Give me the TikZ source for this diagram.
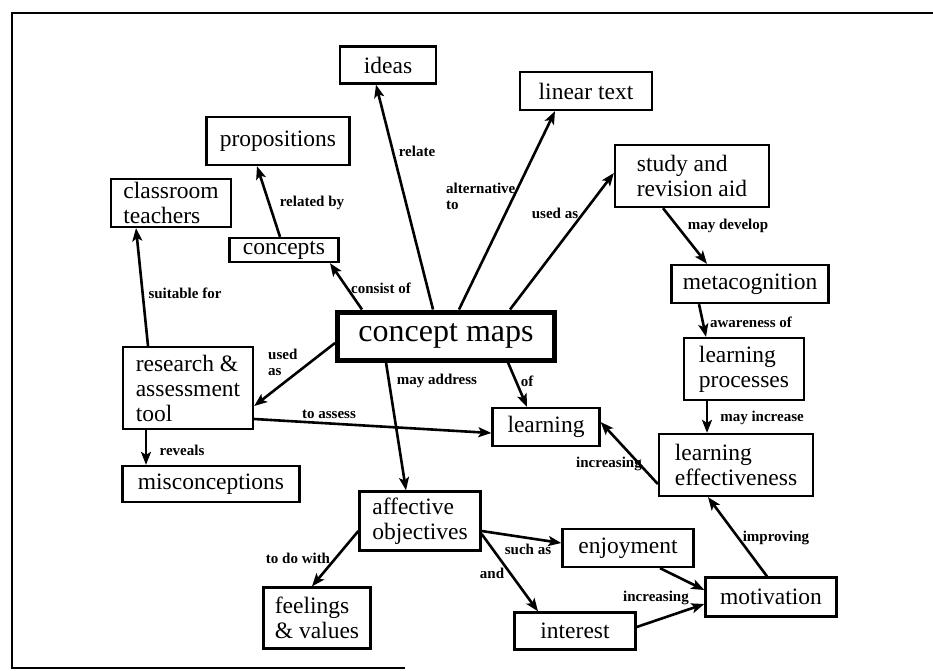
\documentclass[tikz,border=0pt]{standalone}
\usepackage{fontspec}
\setmainfont{Liberation Serif}
\usetikzlibrary{arrows.meta}
\begin{document}
\begin{tikzpicture}[x=1pt,y=-1pt,
  concept/.style={draw, line width=2.3pt, rectangle, inner sep=0pt, align=left,
    font=\fontsize{23.5}{25}\selectfont},
  link/.style={line width=2.6pt, -{Stealth[length=13pt,width=10pt,inset=3pt]}},
  lbl/.style={inner sep=0pt, align=left, font=\fontsize{15}{16}\selectfont\bfseries},
]
\useasboundingbox (0,0) rectangle (933,670);

% partial frame
\draw[line width=2.5pt] (933,13) -- (12,13) -- (12,668) -- (405,668);

% concepts
\node[draw, line width=5pt, rectangle, inner sep=0pt, minimum width=217pt, minimum height=48pt,
      font=\fontsize{32}{34}\selectfont] (cmaps) at (446,336) {concept maps};
\node[concept, minimum width=96pt,  minimum height=37pt] (ideas)    at (388,65)  {ideas};
\node[concept, minimum width=132pt, minimum height=38pt] (linear)   at (586,91)  {linear text};
\node[concept, minimum width=143pt, minimum height=48pt] (props)    at (278,141) {propositions};
\node[concept, minimum width=120pt, minimum height=48pt] (teachers) at (171,203) {classroom\\teachers};
\node[concept, minimum width=109pt, minimum height=24pt] (concepts) at (284,250) {concepts};
\node[concept, minimum width=154pt, minimum height=62pt] (study)    at (692,176) {study and\\revision aid};
\node[concept, minimum width=157pt, minimum height=38pt] (meta)     at (750,284) {metacognition};
\node[concept, minimum width=130pt, minimum height=82pt] (research) at (188,388) {research \&\\assessment\\tool};
\node[concept, minimum width=177pt, minimum height=36pt] (miscon)   at (211,484) {misconceptions};
\node[concept, minimum width=107pt, minimum height=38pt] (learning) at (546,427) {learning};
\node[concept, minimum width=120pt, minimum height=62pt] (lproc)    at (744,369) {learning\\processes};
\node[concept, minimum width=154pt, minimum height=62pt] (leff)     at (736,465) {learning\\effectiveness};
\node[concept, minimum width=121pt, minimum height=59pt] (affect)   at (420,521) {affective\\objectives};
\node[concept, minimum width=131pt, minimum height=38pt] (enjoy)    at (628,548) {enjoyment};
\node[concept, minimum width=131pt, minimum height=39pt] (motiv)    at (771,597) {motivation};
\node[concept, minimum width=121pt, minimum height=37pt] (interest) at (575,631) {interest};
\node[concept, minimum width=107pt, minimum height=61pt] (feelings) at (317,618) {feelings\\\& values};

% links
\draw[link] ([xshift=-13pt]cmaps.north) -- ([xshift=-12pt]ideas.south);
\draw[link] ([xshift=13pt]cmaps.north) -- ([xshift=-31pt]linear.south);
\draw[link] ([xshift=64pt]cmaps.north) -- ([yshift=3pt]study.west);
\draw[link] ([xshift=-29pt]study.south) -- ([xshift=-43pt]meta.north);
\draw[link] ([xshift=-51pt]meta.south) -- ([xshift=-38pt]lproc.north);
\draw[link] ([xshift=-37pt]lproc.south) -- ([xshift=-29pt]leff.north);
\draw[link] ([yshift=-19pt]leff.west) -- ([yshift=5pt]learning.east);
\draw[link] ([xshift=-4pt]motiv.north) -- ([xshift=-28pt]leff.south);
\draw[link] ([xshift=32pt]enjoy.south) -- ([yshift=7pt]motiv.west);
\draw[link] ([yshift=4pt]interest.east) -- ([yshift=-7pt]motiv.west);
\draw[link] ([yshift=-10pt]affect.east) -- ([yshift=5pt]enjoy.west);
\draw[link] ([yshift=-13pt]affect.east) -- ([xshift=-37pt]interest.north);
\draw[link] ([yshift=-10pt]affect.west) -- ([xshift=-5pt]feelings.north);
\draw[link] ([xshift=-60pt]cmaps.south) -- ([xshift=-14pt]affect.north);
\draw[link] ([xshift=62pt]cmaps.south) -- ([xshift=-19pt]learning.north);
\draw[link] ([yshift=-7pt]cmaps.west) -- ([yshift=-18pt]research.east);
\draw[link] ([yshift=-31pt]research.east) -- ([yshift=-6pt]learning.west);
\draw[link] ([xshift=-42pt]research.south) -- ([xshift=-65pt]miscon.north);
\draw[link] ([xshift=-40pt]research.north) -- ([xshift=-35pt]teachers.south);
\draw[link] ([xshift=-4pt]concepts.north) -- ([xshift=-21pt]props.south);
\draw[link] ([xshift=-84pt]cmaps.north) -- ([xshift=46pt]concepts.south);

% link labels
\node[lbl] (l-relate)   at (417,151) {relate};
\node[lbl, anchor=west] (l-alt) at (446,196) {alternative\\to};
\node[lbl] (l-usedas)   at (555,213) {used as};
\node[lbl] (l-develop)  at (728,226) {may develop};
\node[lbl] (l-aware)    at (751,322) {awareness of};
\node[lbl] (l-incr)     at (762,418) {may increase};
\node[lbl] (l-increasing1) at (609,464) {increasing};
\node[lbl] (l-improv)   at (776,538) {improving};
\node[lbl] (l-increasing2) at (656,598) {increasing};
\node[lbl] (l-suchas)   at (528,549) {such as};
\node[lbl] (l-and)      at (492,573) {and};
\node[lbl] (l-todo)     at (298,558) {to do with};
\node[lbl] (l-address)  at (437,381) {may address};
\node[lbl] (l-of)       at (527,381) {of};
\node[lbl, anchor=west] (l-usedas2) at (268,362) {used\\as};
\node[lbl] (l-assess)   at (329,414) {to assess};
\node[lbl] (l-reveals)  at (182,450) {reveals};
\node[lbl] (l-suitable) at (185,293) {suitable for};
\node[lbl] (l-related)  at (312,203) {related by};
\node[lbl] (l-consist)  at (381,288) {consist of};
\end{tikzpicture}
\end{document}
